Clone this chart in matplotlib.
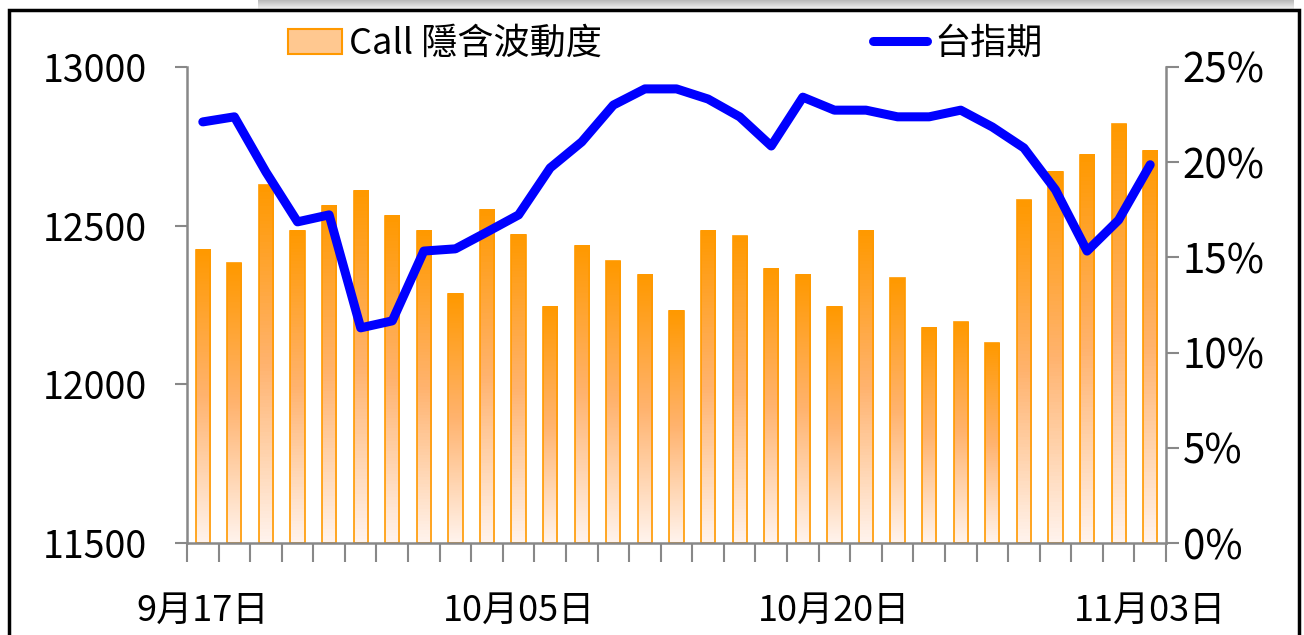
import numpy as np
import matplotlib
matplotlib.use('Agg')
import matplotlib.pyplot as plt
from matplotlib import colors as mcolors
from matplotlib.patches import Rectangle, Patch
from matplotlib.lines import Line2D

plt.rcParams['font.family'] = ['Noto Sans CJK TC', 'DejaVu Sans']
plt.rcParams['font.weight'] = 'medium'

# ---- 資料 ----
# Call 隱含波動度 (%)
call_iv = [15.4, 14.7, 18.8, 16.4, 17.7, 18.5, 17.2, 16.4, 13.1, 17.5,
           16.2, 12.4, 15.6, 14.8, 14.1, 12.2, 16.4, 16.1, 14.4, 14.1,
           12.4, 16.4, 13.9, 11.3, 11.6, 10.5, 18.0, 19.5, 20.4, 22.0, 20.6]
# 台指期
taifex = [12827, 12843, 12669, 12512, 12534, 12178, 12200, 12420, 12427, 12480,
          12534, 12682, 12764, 12880, 12931, 12931, 12899, 12843, 12751, 12905,
          12864, 12864, 12843, 12843, 12864, 12811, 12745, 12613, 12420, 12518, 12692]
date_labels = ['9月17日', '10月05日', '10月20日', '11月03日']
date_idx = [0, 10, 20, 30]
left_ticks = [11500, 12000, 12500, 13000]
right_ticks = [0, 5, 10, 15, 20, 25]

orange = '#FF9900'
blue = '#0000FF'
grey = '#888888'

fig = plt.figure(figsize=(13.04, 6.35), dpi=100)

# 上方陰影 + 外框
sh = fig.add_axes([258 / 1304, 1 - 11 / 635, 1036 / 1304, 11 / 635])
shade = np.linspace(0.72, 1.0, 50).reshape(-1, 1)
sh.imshow(shade, cmap='gray', vmin=0, vmax=1, aspect='auto', origin='upper')
sh.axis('off')
fig.patches.append(Rectangle((9 / 1304, -0.01), 1290 / 1304, 1 - 10 / 635 + 0.01,
                             transform=fig.transFigure, fill=False,
                             edgecolor='black', linewidth=2.5, zorder=5))

ax = fig.add_axes([187 / 1304, 1 - 543 / 635, 979 / 1304, 476 / 635])
x = np.arange(len(call_iv))
w = 0.45

# 漸層柱狀 (右軸)
cmap_bar = mcolors.LinearSegmentedColormap.from_list('bar', ['#FFF3EC', '#FFB36E', orange])
grad = np.linspace(0, 1, 100).reshape(-1, 1)
for xi, v in zip(x, call_iv):
    ax.imshow(grad, cmap=cmap_bar, extent=[xi - w / 2, xi + w / 2, 0, v],
              origin='lower', aspect='auto', zorder=1)
    ax.add_patch(Rectangle((xi - w / 2, 0), w, v, fill=False,
                           edgecolor=orange, linewidth=1.2, zorder=2))
ax.set_xlim(-0.5, len(call_iv) - 0.5)
ax.set_ylim(0, 25)

# 台指期 (左軸)
axl = ax.twinx()
axl.plot(x, taifex, color=blue, linewidth=6.5, solid_capstyle='round',
         solid_joinstyle='round', zorder=3)
axl.set_ylim(11500, 13000)
axl.set_xlim(-0.5, len(call_iv) - 0.5)

ax.yaxis.tick_right()
ax.yaxis.set_label_position('right')
ax.set_yticks(right_ticks)
ax.set_yticklabels([f'{t}%' for t in right_ticks])
axl.yaxis.tick_left()
axl.yaxis.set_label_position('left')
axl.set_yticks(left_ticks)

for a in (ax, axl):
    for s in a.spines.values():
        s.set_visible(False)
    a.tick_params(axis='y', colors=grey, length=9, width=1.5, labelsize=27,
                  labelcolor='black', direction='out')

ax.spines['right'].set_visible(True)
ax.spines['bottom'].set_visible(True)
axl.spines['left'].set_visible(True)
for s in (ax.spines['right'], ax.spines['bottom'], axl.spines['left']):
    s.set_color(grey)
    s.set_linewidth(1.8)
ax.tick_params(axis='y', pad=3, labelsize=29)
axl.tick_params(axis='y', pad=20)

ax.set_xticks(date_idx)
ax.set_xticklabels(date_labels)
ax.set_xticks(np.arange(-0.5, len(call_iv), 1), minor=True)
ax.tick_params(axis='x', which='major', length=0, pad=36, labelsize=26)
ax.tick_params(axis='x', which='minor', length=14, width=1.5, color=grey)
axl.tick_params(axis='x', which='both', length=0, labelbottom=False)

handles = [Patch(facecolor='#FFC890', edgecolor=orange, linewidth=1.5),
           Line2D([0], [0], color=blue, linewidth=6.5, solid_capstyle='round')]
fig.legend(handles, ['Call 隱含波動度', '台指期'], loc='center',
           bbox_to_anchor=(665 / 1304, 1 - 44 / 635), ncol=2, frameon=False,
           fontsize=26, handlelength=1.5, handletextpad=0.2, columnspacing=7.5)

fig.savefig('out.png', dpi=100)
